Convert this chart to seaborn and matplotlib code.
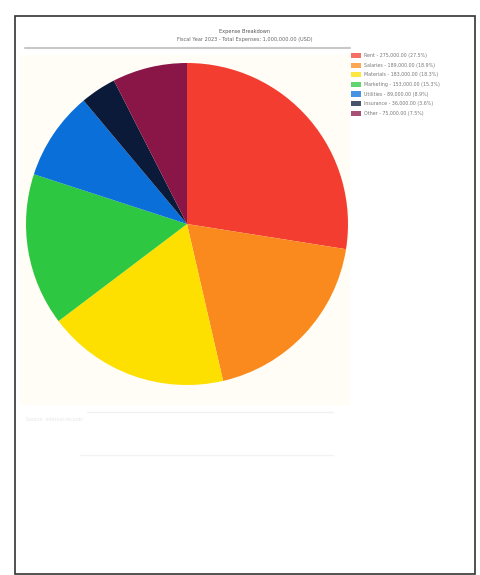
import seaborn as sns
from matplotlib import pyplot as plt
from matplotlib.patches import Rectangle, Patch
from matplotlib.lines import Line2D

categories = ['Rent', 'Salaries', 'Materials', 'Marketing', 'Utilities', 'Insurance', 'Other']
values = [27.5, 18.9, 18.3, 15.3, 8.9, 3.6, 7.5]
amounts = ['275,000.00', '189,000.00', '183,000.00', '153,000.00', '89,000.00', '36,000.00', '75,000.00']
colors = ['#f43d31', '#fb8a1e', '#fde000', '#2ec742', '#0a6fd8', '#0b1a38', '#8a1547']

title_line1 = 'Expense Breakdown'
title_line2 = 'Fiscal Year 2023 - Total Expenses: 1,000,000.00 (USD)'

sns.set_theme(style='white')
plt.rcParams['font.family'] = ['DejaVu Sans']

W, H = 480, 575
fig = plt.figure(figsize=(4.8, 5.75), dpi=100)
fig.patch.set_facecolor('white')

def fx(x):
    return x / W

def fy(y):
    return 1 - y / H

# outer frame
fig.patches.append(Rectangle((fx(15), fy(574)), fx(475) - fx(15), fy(16) - fy(574),
                             transform=fig.transFigure, fill=False,
                             edgecolor='#333333', linewidth=1.2, zorder=0))
# cream plot area
fig.patches.append(Rectangle((fx(20), fy(405)), fx(350) - fx(20), fy(55) - fy(405),
                             transform=fig.transFigure, facecolor='#fffdf6',
                             edgecolor='none', zorder=0))

# title and rule
fig.text(fx(245), fy(31), title_line1, ha='center', va='center', fontsize=3.6, color='#555555')
fig.text(fx(245), fy(40), title_line2, ha='center', va='center', fontsize=3.6, color='#666666')
fig.add_artist(Line2D([fx(25), fx(350)], [fy(48), fy(48)], transform=fig.transFigure,
                      color='#c8c8c8', linewidth=1.5))

# pie
cx, cy, r = 187, 224, 161
ax = fig.add_axes([fx(cx - r), fy(cy + r), fx(2 * r), fy(cy - r) - fy(cy + r)])
ax.set_zorder(5)
ax.patch.set_alpha(0)
ax.pie(values, colors=colors, startangle=90, counterclock=False,
       wedgeprops=dict(linewidth=0))
ax.set_xlim(-1, 1)
ax.set_ylim(-1, 1)
ax.set_aspect('equal')
ax.axis('off')

# legend
handles = [Patch(facecolor=c, edgecolor='none', alpha=0.75) for c in colors]
labels = [f'{n} - {a} ({v:.1f}%)' for n, a, v in zip(categories, amounts, values)]
leg = fig.legend(handles, labels, loc='upper left', bbox_to_anchor=(fx(349), fy(51)),
                 fontsize=3.4, frameon=False, handlelength=2.2, handleheight=1.3,
                 labelspacing=0.95, handletextpad=0.6, borderaxespad=0)
for t in leg.get_texts():
    t.set_color('#777777')

# faint footer
fig.text(fx(26), fy(421), 'Source: internal records', fontsize=3.4, color='#e6e6e6')
fig.add_artist(Line2D([fx(87), fx(333)], [fy(412), fy(412)], transform=fig.transFigure,
                      color='#f0f0f0', linewidth=1))
fig.add_artist(Line2D([fx(80), fx(333)], [fy(455), fy(455)], transform=fig.transFigure,
                      color='#f3f3f3', linewidth=1))

fig.savefig('out.png', dpi=100, facecolor='white')
